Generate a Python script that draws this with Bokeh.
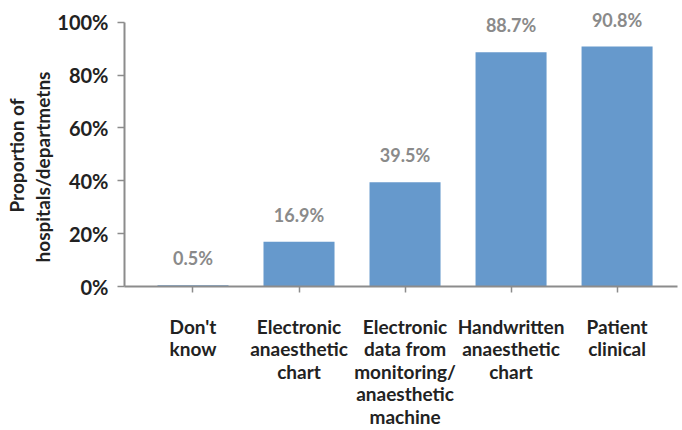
from bokeh.plotting import figure
from bokeh.models import Range1d, FixedTicker, ColumnDataSource, LabelSet, Title
from bokeh.core.properties import value
from bokeh.embed import file_html
from bokeh.resources import INLINE

# Data
categories = [
    "Don't\nknow",
    "Electronic\nanaesthetic\nchart",
    "Electronic\ndata from\nmonitoring/\nanaesthetic\nmachine",
    "Handwritten\nanaesthetic\nchart",
    "Patient\nclinical",
]
values = [0.5, 16.9, 39.5, 88.7, 90.8]
y_ticks = [0, 20, 40, 60, 80, 100]
y_tick_labels = ["0%", "20%", "40%", "60%", "80%", "100%"]
y_title_lines = ["Proportion of", "hospitals/departmetns"]

FONT = "Lato"
DARK = "#222222"
AXIS_GREY = "#8c8c8c"
BAR_BLUE = "#6699cc"

xs = list(range(len(categories)))
source = ColumnDataSource(dict(
    x=xs,
    top=values,
    label=[f"{v:.1f}%" for v in values],
))

p = figure(
    width=682, height=430,
    x_range=Range1d(-0.646, 4.57),
    y_range=Range1d(0, 107.5),
    output_backend="svg",
    toolbar_location=None,
    min_border_left=124, min_border_right=5,
    min_border_top=2, min_border_bottom=141,
)
p.outline_line_color = None
p.xgrid.grid_line_color = None
p.ygrid.grid_line_color = None
p.background_fill_color = "white"
p.border_fill_color = "white"

p.vbar(x="x", top="top", bottom=0, width=0.67, source=source,
       fill_color=BAR_BLUE, line_color=None)

labels = LabelSet(x="x", y="top", text="label", source=source,
                  text_align="center", text_baseline="middle", y_offset=27,
                  text_font=value(FONT), text_font_style="bold",
                  text_font_size="18px", text_color="#8a8a8a")
p.add_layout(labels)

# y axis, its line running from 0% to 100% only
p.yaxis.bounds = (0, 100)
p.yaxis.ticker = FixedTicker(ticks=y_ticks)
p.yaxis.major_label_overrides = dict(zip(y_ticks, y_tick_labels))
p.yaxis.minor_tick_line_color = None
p.yaxis.major_tick_in = 0
p.yaxis.major_tick_out = 7
p.yaxis.major_label_standoff = 9
p.yaxis.axis_line_color = AXIS_GREY
p.yaxis.axis_line_width = 2
p.yaxis.major_tick_line_color = AXIS_GREY
p.yaxis.major_tick_line_width = 1.5
p.yaxis.major_label_text_font = FONT
p.yaxis.major_label_text_font_style = "bold"
p.yaxis.major_label_text_font_size = "20px"
p.yaxis.major_label_text_color = DARK

# y axis title, two lines, each centred on the 0-100% span of the axis
# (offset is measured upward from the bottom of the frame)
for line, off, gap in zip(reversed(y_title_lines), [24, 74], [2, 0]):
    p.add_layout(Title(text=line, align="left", offset=off, standoff=gap,
                       text_font=FONT, text_font_style="bold",
                       text_font_size="19px", text_color=DARK), "left")

# x axis
p.xaxis.ticker = FixedTicker(ticks=xs)
p.xaxis.major_label_overrides = dict(zip(xs, categories))
p.xaxis.minor_tick_line_color = None
p.xaxis.major_tick_in = 0
p.xaxis.major_tick_out = 6
p.xaxis.major_label_standoff = 22
p.xaxis.axis_line_color = AXIS_GREY
p.xaxis.axis_line_width = 2
p.xaxis.major_tick_line_color = AXIS_GREY
p.xaxis.major_tick_line_width = 1.5
p.xaxis.major_label_text_font = FONT
p.xaxis.major_label_text_font_style = "bold"
p.xaxis.major_label_text_font_size = "19px"
p.xaxis.major_label_text_color = DARK
p.xaxis.major_label_text_line_height = 0.98

open("out.html", "w").write(file_html(p, INLINE))
